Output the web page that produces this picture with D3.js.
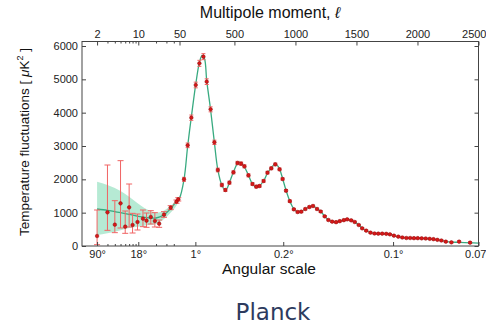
<!DOCTYPE html>
<html><head><meta charset="utf-8">
<script src="https://cdn.jsdelivr.net/npm/d3@7"></script>
<style>body{margin:0;background:#fff}svg{display:block}</style>
</head><body>
<svg id="c" width="486" height="326"></svg>
<script>
// ---- data ----
const lowEll   = [2, 3, 4, 5, 6, 7, 8, 9.7, 12, 13.8, 16.3, 19.1, 22.6, 27.3, 35.4, 44.4, 47.7];
const lowTT    = [300, 1010, 640, 1280, 580, 1160, 630, 720, 820, 760, 870, 750, 670, 940, 1150, 1330, 1400];
const lowErrLo = [40, 470, 400, 540, 380, 570, 390, 480, 580, 560, 660, 570, 560, 860, 1090, 1280, 1350];
const lowErrHi = [1080, 2430, 1360, 2560, 1050, 1860, 980, 960, 1080, 990, 1060, 1000, 780, 1030, 1210, 1380, 1450];

const highEll = [87,117,147,183,213,246,273,305,336,364,397,426,459,492,525,555,582,615,648,679,706,739,771,802,835,870,895,923,954,987,1018,1048,1081,1114,1144,1177,1207,1240,1270,1301,1333,1363,1396,1424,1457,1486,1519,1547,1580,1615,1648,1679,1711,1744,1774,1807,1843,1876,1909,1940,1971,2002,2034,2067,2100,2131,2163,2196,2232,2278,2341,2431];
const highTT  = [2000,3020,3850,4830,5480,5680,4930,4100,3110,2280,1830,1680,1900,2210,2490,2470,2390,2120,1860,1780,1800,1950,2200,2330,2450,2300,2010,1660,1345,1100,1020,1030,1110,1170,1200,1110,1035,890,780,730,715,745,775,800,770,720,630,530,460,400,375,370,370,365,350,310,280,255,240,240,235,235,230,225,215,205,185,165,130,110,130,100];
const highErr = [60,70,80,85,90,90,85,75,65,55,50,45,45,45,50,50,45,45,40,40,40,40,40,40,40,40,35,35,35,30,30,30,30,30,30,30,30,25,25,25,25,25,25,25,25,25,20,20,20,20,20,20,20,20,20,20,20,20,20,20,20,20,20,20,20,20,20,20,20,20,25,25];

const modelEll = [2,3,4,5,7,10,14,20,27,35,44,50,87,117,147,183,213,235,255,273,305,336,364,397,420,435,459,492,525,540,555,582,615,648,679,700,739,771,802,830,850,870,895,923,954,987,1018,1048,1081,1114,1144,1177,1207,1240,1270,1301,1333,1363,1396,1424,1457,1486,1519,1547,1580,1615,1648,1679,1711,1744,1774,1807,1843,1876,1909,1940,1971,2002,2034,2067,2100,2131,2163,2196,2232,2278,2341,2431,2500];
const modelTT  = [1110,1070,1030,1000,950,890,850,840,930,1110,1330,1440,2000,3000,3870,4850,5500,5720,5620,4960,4080,3100,2290,1820,1690,1700,1900,2220,2480,2520,2480,2370,2120,1860,1770,1790,1950,2190,2340,2450,2420,2310,2020,1670,1350,1110,1025,1035,1110,1170,1200,1115,1035,890,785,735,720,745,775,795,765,715,630,535,460,405,378,368,365,360,345,312,280,258,245,238,235,232,228,222,212,198,182,162,138,118,110,95,85];

const bandEll = [2, 3, 4, 5, 7, 10, 14, 20, 27, 35, 45, 50];
const bandHi  = [1930, 1830, 1740, 1650, 1480, 1270, 1100, 1000, 1060, 1200, 1380, 1470];
const bandLo  = [330, 380, 430, 470, 540, 580, 620, 660, 800, 990, 1230, 1380];

const topLogTicks = [2, 10, 50];
const topLinTicks = [500, 1000, 1500, 2000, 2500];
const minorTicks  = [3, 4, 5, 6, 7, 8, 9, 20, 30, 40];
const botLogEll = [2, 10];
const botLogLabels = ["90°", "18°"];
const botLinEll = [180, 900, 1800, 2500];
const botLinLabels = ["1°", "0.2°", "0.1°", "0.07"];
const yTicks = [0, 1000, 2000, 3000, 4000, 5000, 6000];

// ---- layout ----
const L = 82, R = 478.5, T = 41.5, B = 246, XJ = 179.5;
const svg = d3.select("#c");
const xLog = d3.scaleLog().domain([1.11, 50]).range([L, XJ]);
const xLin = d3.scaleLinear().domain([50, 2500]).range([XJ, R]);
const X = l => l < 50 ? xLog(l) : xLin(l);
const y = d3.scaleLinear().domain([0, 6135]).range([B, T]);

const FONT = "'Liberation Sans', Arial, sans-serif";

// band
const band = bandEll.map((l, i) => ({l, lo: bandLo[i], hi: bandHi[i]}));
svg.append("path").datum(band)
  .attr("d", d3.area().x(d => X(d.l)).y0(d => y(d.lo)).y1(d => y(d.hi)).curve(d3.curveMonotoneX))
  .attr("fill", "#a9e6cc").attr("fill-opacity", 0.85);

// model
const model = modelEll.map((l, i) => ({l, v: modelTT[i]}));
svg.append("path").datum(model)
  .attr("d", d3.line().x(d => X(d.l)).y(d => y(d.v)).curve(d3.curveCatmullRom.alpha(0.5)))
  .attr("fill", "none").attr("stroke", "#38aa80").attr("stroke-width", 1.3);

// error bars
const pts = lowEll.map((l, i) => ({l, v: lowTT[i], lo: lowErrLo[i], hi: lowErrHi[i], cap: 3}))
  .concat(highEll.map((l, i) => ({l, v: highTT[i], lo: highTT[i] - highErr[i], hi: highTT[i] + highErr[i], cap: 2})));
const eb = svg.append("g").attr("stroke", "#f06464").attr("stroke-width", 1);
pts.forEach(d => {
  const x = X(d.l);
  eb.append("line").attr("x1", x).attr("x2", x).attr("y1", y(d.lo)).attr("y2", y(d.hi));
  eb.append("line").attr("x1", x - d.cap).attr("x2", x + d.cap).attr("y1", y(d.lo)).attr("y2", y(d.lo));
  eb.append("line").attr("x1", x - d.cap).attr("x2", x + d.cap).attr("y1", y(d.hi)).attr("y2", y(d.hi));
});
svg.append("g").selectAll("circle").data(pts).join("circle")
  .attr("cx", d => X(d.l)).attr("cy", d => y(d.v)).attr("r", 1.8)
  .attr("fill", "#d81818").attr("stroke", "#8a0a0a").attr("stroke-width", 0.5);

// frame
svg.append("rect").attr("x", L).attr("y", T).attr("width", R - L).attr("height", B - T)
  .attr("fill", "none").attr("stroke", "#444").attr("stroke-width", 1);

function styleAxis(g) {
  g.select(".domain").remove();
  g.selectAll("line").attr("stroke", "#444");
  g.selectAll("text").attr("font-family", FONT).attr("font-size", 11).attr("fill", "#222");
}
// keep the last label inside the picture
function fitLast(g) {
  g.selectAll(".tick").filter(d => d === 2500).select("text")
    .attr("text-anchor", "end").attr("dx", 7.5);
}
// top axis
svg.append("g").attr("transform", `translate(0,${T})`)
  .call(d3.axisTop(xLog).tickValues(topLogTicks).tickFormat(d3.format("d")).tickSizeInner(-4).tickSizeOuter(0).tickPadding(4)).call(styleAxis);
svg.append("g").attr("transform", `translate(0,${T})`)
  .call(d3.axisTop(xLin).tickValues(topLinTicks).tickFormat(d3.format("d")).tickSizeInner(-4).tickSizeOuter(0).tickPadding(4)).call(styleAxis).call(fitLast);
svg.append("g").attr("transform", `translate(0,${T})`)
  .call(d3.axisTop(xLog).tickValues(minorTicks).tickFormat("").tickSizeInner(-2).tickSizeOuter(0)).call(styleAxis);
// bottom axis
svg.append("g").attr("transform", `translate(0,${B})`)
  .call(d3.axisBottom(xLog).tickValues(botLogEll).tickFormat((d, i) => botLogLabels[i]).tickSizeInner(-4).tickSizeOuter(0).tickPadding(4)).call(styleAxis);
svg.append("g").attr("transform", `translate(0,${B})`)
  .call(d3.axisBottom(xLin).tickValues(botLinEll).tickFormat((d, i) => botLinLabels[i]).tickSizeInner(-4).tickSizeOuter(0).tickPadding(4)).call(styleAxis).call(fitLast);
svg.append("g").attr("transform", `translate(0,${B})`)
  .call(d3.axisBottom(xLog).tickValues(minorTicks).tickFormat("").tickSizeInner(-2).tickSizeOuter(0)).call(styleAxis);
// y axes
svg.append("g").attr("transform", `translate(${L},0)`)
  .call(d3.axisLeft(y).tickValues(yTicks).tickFormat(d3.format("d")).tickSizeInner(-4).tickSizeOuter(0).tickPadding(4)).call(styleAxis);
svg.append("g").attr("transform", `translate(${R},0)`)
  .call(d3.axisRight(y).tickValues(yTicks).tickFormat("").tickSizeInner(-4).tickSizeOuter(0)).call(styleAxis);

// titles
const t1 = svg.append("text").attr("x", 270).attr("y", 18).attr("text-anchor", "middle")
  .attr("font-family", FONT).attr("font-size", 16).attr("fill", "#111");
t1.append("tspan").text("Multipole moment, ");
t1.append("tspan").attr("font-style", "italic").text("ℓ");

svg.append("text").attr("x", 269).attr("y", 274).attr("text-anchor", "middle")
  .attr("font-family", FONT).attr("font-size", 15.5).attr("fill", "#111").text("Angular scale");

const yl = svg.append("text").attr("transform", "translate(29,142) rotate(-90)").attr("text-anchor", "middle")
  .attr("font-family", FONT).attr("font-size", 13.5).attr("fill", "#111");
yl.append("tspan").text("Temperature fluctuations [ ");
yl.append("tspan").attr("font-style", "italic").text("μ");
yl.append("tspan").text("K");
yl.append("tspan").attr("font-size", 9).attr("dy", -6).text("2");
yl.append("tspan").attr("dy", 6).text(" ]");

svg.append("text").attr("x", 273).attr("y", 320).attr("text-anchor", "middle")
  .attr("font-family", "'DejaVu Sans', sans-serif").attr("font-size", 23).attr("fill", "#2d3b5e").text("Planck");
</script>
</body></html>
